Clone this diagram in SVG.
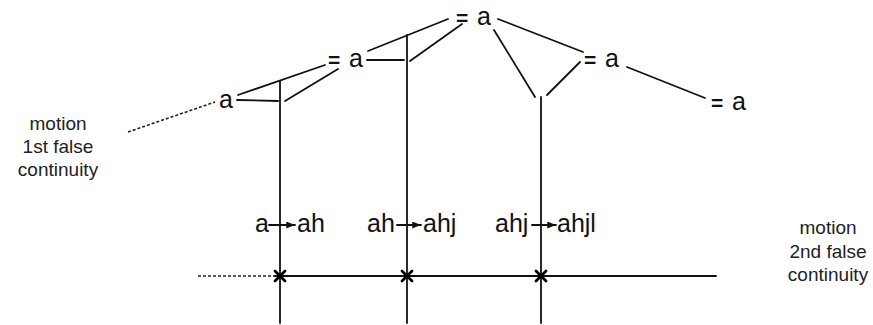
<svg xmlns="http://www.w3.org/2000/svg" width="873" height="325" viewBox="0 0 873 325">
<defs>
<style>
.ln{stroke:#111;stroke-width:1.8;fill:none;stroke-linecap:round}
.dot{stroke:#222;stroke-width:1.6;fill:none;stroke-dasharray:3 2}
.x{stroke:#000;stroke-width:2.8;stroke-linecap:round}
.lb{font-family:"Liberation Sans",Arial,sans-serif;font-size:25px;fill:#111}
.eq{font-family:"Liberation Sans",Arial,sans-serif;font-size:21px;font-weight:bold;fill:#111}
.side{font-family:"Liberation Sans",Arial,sans-serif;font-size:19px;fill:#222;text-anchor:middle}
</style>
<marker id="ah" viewBox="0 0 10 8" refX="10" refY="4" markerWidth="9" markerHeight="7" markerUnits="userSpaceOnUse" orient="auto">
<path d="M0,0 L10,4 L0,8 z" fill="#111"/>
</marker>
</defs>
<rect width="873" height="325" fill="#fff"/>
<g id="connectors">
<line class="ln" x1="280" y1="81" x2="280" y2="323"/>
<line class="ln" x1="407" y1="35" x2="407" y2="323"/>
<line class="ln" x1="541" y1="97" x2="541" y2="323"/>
<line class="ln" x1="448" y1="19" x2="368" y2="51"/>
<line class="ln" x1="462" y1="24" x2="410" y2="61"/>
<line class="ln" x1="367" y1="60" x2="404" y2="60"/>
<line class="ln" x1="325" y1="65" x2="238" y2="95"/>
<line class="ln" x1="338" y1="69" x2="285" y2="101"/>
<line class="ln" x1="237" y1="100" x2="278" y2="101"/>
<line class="dot" x1="128" y1="132" x2="215" y2="102"/>
<line class="ln" x1="498" y1="19" x2="583" y2="52"/>
<line class="ln" x1="494" y1="30" x2="535" y2="97"/>
<line class="ln" x1="580" y1="62" x2="547" y2="95"/>
<line class="ln" x1="627" y1="67" x2="705" y2="98"/>
<line class="dot" x1="198" y1="276" x2="275" y2="276"/>
<line class="ln" x1="275" y1="276" x2="716" y2="276"/>
<line class="ln" x1="269" y1="225" x2="295" y2="225" marker-end="url(#ah)"/>
<line class="ln" x1="397" y1="225" x2="421" y2="225" marker-end="url(#ah)"/>
<line class="ln" x1="532" y1="225" x2="556" y2="225" marker-end="url(#ah)"/>
<path class="x" d="M275,271 L285,281 M285,271 L275,281"/>
<path class="x" d="M402,271 L412,281 M412,271 L402,281"/>
<path class="x" d="M536,271 L546,281 M546,271 L536,281"/>
</g>
<g id="n-top"><text class="eq" x="456" y="25">=</text><text class="lb" x="477" y="25">a</text></g>
<g id="n-mid"><text class="eq" x="328" y="67">=</text><text class="lb" x="349" y="67">a</text></g>
<g id="n-left"><text class="lb" x="219" y="108">a</text></g>
<g id="n-right"><text class="eq" x="584" y="67">=</text><text class="lb" x="605" y="67">a</text></g>
<g id="n-far"><text class="eq" x="711" y="110">=</text><text class="lb" x="732" y="110">a</text></g>
<g id="t1"><text class="lb" x="255" y="232">a</text><text class="lb" x="297" y="232">ah</text></g>
<g id="t2"><text class="lb" x="367" y="232">ah</text><text class="lb" x="423" y="232">ahj</text></g>
<g id="t3"><text class="lb" x="495" y="232">ahj</text><text class="lb" x="557" y="232">ahjl</text></g>
<g id="side-left">
<text class="side" x="58" y="130">motion</text>
<text class="side" x="58" y="153">1st false</text>
<text class="side" x="58" y="176">continuity</text>
</g>
<g id="side-right">
<text class="side" x="828" y="234">motion</text>
<text class="side" x="828" y="258">2nd false</text>
<text class="side" x="828" y="281">continuity</text>
</g>
</svg>
